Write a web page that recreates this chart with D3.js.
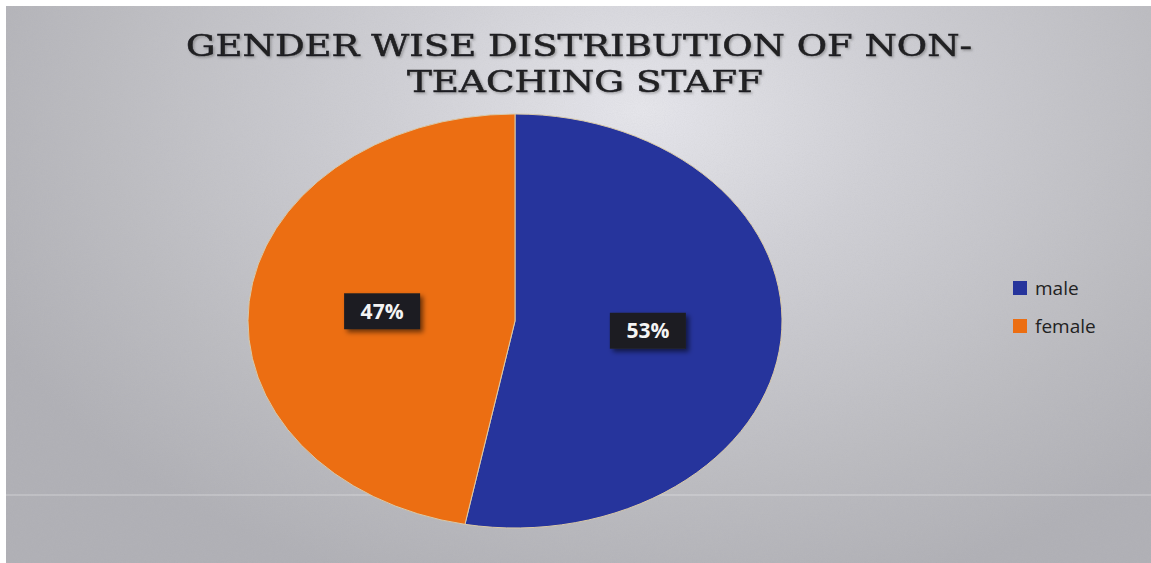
<!DOCTYPE html>
<html>
<head>
<meta charset="utf-8">
<script src="https://cdn.jsdelivr.net/npm/d3@7"></script>
<style>
  html, body { margin: 0; padding: 0; background: #ffffff; }
  svg { display: block; }
</style>
</head>
<body>
<svg id="chart" width="1151" height="563"></svg>
<script>
// ---- data ----
const categories = ["male", "female"];
const values = [53, 47];
const colors = ["#26349c", "#ec6e12"];
const titleLines = ["GENDER WISE DISTRIBUTION OF NON-", "TEACHING STAFF"];

const W = 1151, H = 563;
const svg = d3.select("#chart");
const defs = svg.append("defs");

// background gradient
const bg = defs.append("radialGradient").attr("id", "bgGrad")
  .attr("gradientUnits", "userSpaceOnUse")
  .attr("cx", 640).attr("cy", 110).attr("r", 720)
  .attr("gradientTransform", "translate(640,110) scale(1,0.7) translate(-640,-110)");
bg.append("stop").attr("offset", "0%").attr("stop-color", "#e8e8ee");
bg.append("stop").attr("offset", "35%").attr("stop-color", "#d0d0d6");
bg.append("stop").attr("offset", "75%").attr("stop-color", "#bbbbc0");
bg.append("stop").attr("offset", "100%").attr("stop-color", "#afafb5");

// grain filter
const grain = defs.append("filter").attr("id", "grain").attr("x", 0).attr("y", 0).attr("width", "100%").attr("height", "100%");
grain.append("feTurbulence").attr("type", "fractalNoise").attr("baseFrequency", 0.9).attr("numOctaves", 1).attr("seed", 3).attr("result", "n");
grain.append("feColorMatrix").attr("in", "n").attr("type", "matrix")
  .attr("values", "0 0 0 0 0.5  0 0 0 0 0.5  0 0 0 0 0.5  0 0 0 0.22 0").attr("result", "g");
grain.append("feComposite").attr("in", "g").attr("in2", "SourceGraphic").attr("operator", "in");

// shadow filters
const sh = defs.append("filter").attr("id", "boxShadow").attr("x", "-30%").attr("y", "-30%").attr("width", "170%").attr("height", "170%");
sh.append("feDropShadow").attr("dx", 3).attr("dy", 3).attr("stdDeviation", 2.5).attr("flood-color", "#000").attr("flood-opacity", 0.55);
const tsh = defs.append("filter").attr("id", "titleShadow").attr("x", "-5%").attr("y", "-30%").attr("width", "110%").attr("height", "160%");
tsh.append("feDropShadow").attr("dx", 1.5).attr("dy", 1.5).attr("stdDeviation", 1.2).attr("flood-color", "#555").attr("flood-opacity", 0.45);

svg.append("rect").attr("x", 0).attr("y", 0).attr("width", W).attr("height", H).attr("fill", "#ffffff");
svg.append("rect").attr("x", 6).attr("y", 6).attr("width", W - 6).attr("height", H - 6).attr("fill", "url(#bgGrad)");
svg.append("rect").attr("x", 6).attr("y", 6).attr("width", W - 6).attr("height", H - 6).attr("fill", "#888").attr("filter", "url(#grain)").attr("opacity", 0.9);
// faint scan line
svg.append("rect").attr("x", 6).attr("y", 494).attr("width", W - 6).attr("height", 2).attr("fill", "#ffffff").attr("opacity", 0.2);

// title
const titleBoxes = [[186, 972], [407, 763]];
const title = svg.append("g")
  .attr("font-family", "'DejaVu Serif', 'Liberation Serif', serif")
  .attr("font-size", 29)
  .attr("fill", "#202024")
  .attr("stroke", "#202024")
  .attr("stroke-width", 0.5)
  .attr("filter", "url(#titleShadow)");
title.selectAll("text").data(titleLines).join("text")
  .attr("text-anchor", "middle")
  .attr("x", (d, i) => (titleBoxes[i][0] + titleBoxes[i][1]) / 2)
  .attr("y", (d, i) => 56 + i * 36)
  .attr("textLength", (d, i) => titleBoxes[i][1] - titleBoxes[i][0])
  .attr("lengthAdjust", "spacingAndGlyphs")
  .text(d => d);

// pie
const cx = 515, cy = 321, rx = 267, ry = 207;
const pie = d3.pie().sort(null).value(d => d.value);
const arcs = pie(categories.map((c, i) => ({ name: c, value: values[i], color: colors[i] })));
const arc = d3.arc().innerRadius(0).outerRadius(rx);
const labelArc = d3.arc().innerRadius(rx * 0.5).outerRadius(rx * 0.5);

const g = svg.append("g").attr("transform", `translate(${cx},${cy}) scale(1,${ry / rx})`);
g.selectAll("path").data(arcs).join("path")
  .attr("d", arc)
  .attr("fill", d => d.data.color)
  .attr("stroke", "#d9c9a8")
  .attr("stroke-width", 1)
  .attr("vector-effect", "non-scaling-stroke");

// labels
const lab = svg.append("g");
arcs.forEach(d => {
  const [lx, ly0] = labelArc.centroid(d);
  const x = cx + lx, y = cy + ly0 * ry / rx;
  const lg = lab.append("g").attr("transform", `translate(${x},${y})`);
  lg.append("rect").attr("x", -38).attr("y", -18).attr("width", 76).attr("height", 36)
    .attr("fill", "#1f1f21").attr("filter", "url(#boxShadow)");
  lg.append("text").attr("text-anchor", "middle").attr("dy", "0.35em")
    .attr("font-family", "'Open Sans', 'DejaVu Sans', sans-serif")
    .attr("font-weight", "bold").attr("font-size", 21)
    .attr("fill", "#f4f4f4")
    .text(Math.round(d.data.value) + "%");
});

// legend
const legend = svg.append("g").attr("transform", "translate(1013,288)");
const items = legend.selectAll("g").data(categories).join("g")
  .attr("transform", (d, i) => `translate(0,${i * 38})`);
items.append("rect").attr("x", 0).attr("y", -7).attr("width", 14).attr("height", 14)
  .attr("fill", (d, i) => colors[i]);
items.append("text").attr("x", 22).attr("y", 0).attr("dy", "0.35em")
  .attr("font-family", "'Open Sans', 'DejaVu Sans', sans-serif")
  .attr("font-size", 19).attr("fill", "#222")
  .text(d => d);
</script>
</body>
</html>
